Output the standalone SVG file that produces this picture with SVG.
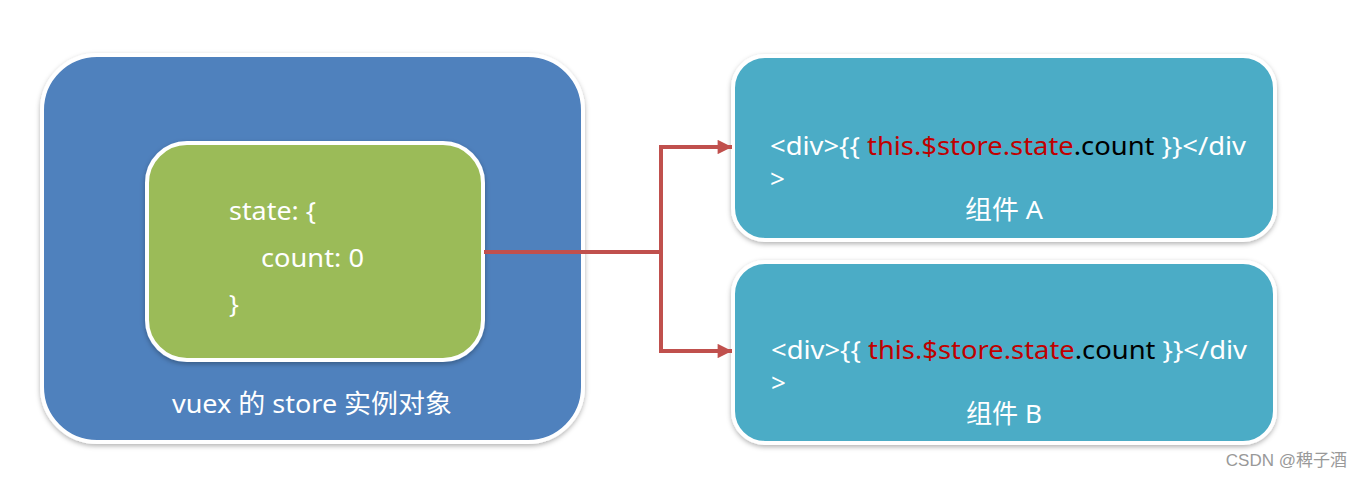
<svg xmlns="http://www.w3.org/2000/svg" width="1363" height="479" viewBox="0 0 1363 479">
<defs>
<filter id="sh" x="-10%" y="-10%" width="120%" height="130%">
<feDropShadow dx="0" dy="2" stdDeviation="2.5" flood-color="#000" flood-opacity="0.3"/>
</filter>
<marker id="arr" viewBox="0 0 10 10" refX="10" refY="5" markerWidth="4" markerHeight="3.6" orient="auto" markerUnits="strokeWidth">
<path d="M0,0 L10,5 L0,10 Z" fill="#C0504D"/>
</marker>
<style>
.t{font-family:"Noto Sans","Open Sans","Noto Sans CJK SC",sans-serif;fill:#fff}
.code{font-size:26px}
.red{fill:#C00000}
.blk{fill:#000}
.box{stroke:#fff;stroke-width:4}
.conn{fill:none;stroke:#C0504D;stroke-width:4}
</style>
</defs>
<rect width="1363" height="479" fill="#fff"/>
<g id="store">
<rect class="box" x="42" y="55" width="541" height="387" rx="55" fill="#4F81BD" filter="url(#sh)"/>
<text class="t" x="312" y="413" font-size="26" text-anchor="middle" textLength="280" lengthAdjust="spacingAndGlyphs">vuex 的 store 实例对象</text>
</g>
<g id="state">
<rect class="box" x="147" y="143" width="336" height="217" rx="40" fill="#9BBB59" filter="url(#sh)"/>
<text class="t" x="229" y="220" font-size="26" textLength="87" lengthAdjust="spacingAndGlyphs">state: {</text>
<text class="t" x="261" y="267" font-size="26" textLength="103" lengthAdjust="spacingAndGlyphs">count: 0</text>
<text class="t" x="229" y="313" font-size="26">}</text>
</g>
<g id="compA">
<rect class="box" x="733" y="56" width="542" height="184" rx="32" fill="#4BACC6" filter="url(#sh)"/>
<text class="t code" x="770" y="155" textLength="476" lengthAdjust="spacingAndGlyphs">&lt;div&gt;{{ <tspan class="red">this.$store.state</tspan><tspan class="blk">.count</tspan> }}&lt;/div</text>
<text class="t code" x="770" y="188">&gt;</text>
<text class="t" x="1004" y="219" font-size="26" text-anchor="middle" textLength="78" lengthAdjust="spacingAndGlyphs">组件 A</text>
</g>
<g id="compB">
<rect class="box" x="733" y="262" width="542" height="181" rx="32" fill="#4BACC6" filter="url(#sh)"/>
<text class="t code" x="771" y="359" textLength="476" lengthAdjust="spacingAndGlyphs">&lt;div&gt;{{ <tspan class="red">this.$store.state</tspan><tspan class="blk">.count</tspan> }}&lt;/div</text>
<text class="t code" x="771" y="392">&gt;</text>
<text class="t" x="1004" y="423" font-size="26" text-anchor="middle" textLength="76" lengthAdjust="spacingAndGlyphs">组件 B</text>
</g>
<g id="connectors">
<path class="conn" d="M484,252 H661"/>
<path class="conn" d="M661,252 V147 H732" marker-end="url(#arr)"/>
<path class="conn" d="M661,252 V351 H732" marker-end="url(#arr)"/>
</g>
<text x="1347" y="466" font-family="'Liberation Sans','Noto Sans CJK SC',sans-serif" font-size="17" fill="#999" text-anchor="end">CSDN @稗子酒</text>
</svg>
